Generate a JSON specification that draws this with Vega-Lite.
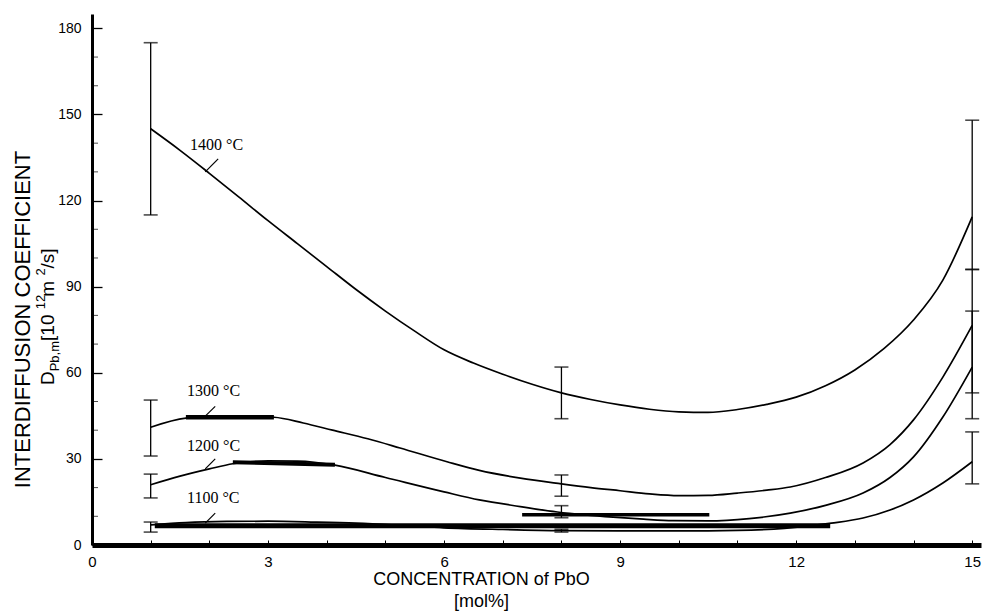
{
  "$schema": "https://vega.github.io/schema/vega-lite/v6.json",
  "width": 889,
  "height": 531,
  "autosize": {"type": "none"},
  "padding": {"left": 92, "top": 14, "right": 1, "bottom": 69},
  "background": "white",
  "config": {"view": {"stroke": null}, "font": "Liberation Sans"},
  "datasets": {
    "curves": [
      {"series": "1400", "conc": 1, "d": 145}, {"series": "1400", "conc": 1.5, "d": 137.5}, {"series": "1400", "conc": 2, "d": 129.5},
      {"series": "1400", "conc": 2.5, "d": 121.3}, {"series": "1400", "conc": 3, "d": 113}, {"series": "1400", "conc": 3.5, "d": 105},
      {"series": "1400", "conc": 4, "d": 97}, {"series": "1400", "conc": 4.5, "d": 89}, {"series": "1400", "conc": 5, "d": 81.5},
      {"series": "1400", "conc": 5.5, "d": 74.5}, {"series": "1400", "conc": 6, "d": 68}, {"series": "1400", "conc": 6.5, "d": 63.4},
      {"series": "1400", "conc": 7, "d": 59.5}, {"series": "1400", "conc": 7.5, "d": 56}, {"series": "1400", "conc": 8, "d": 53},
      {"series": "1400", "conc": 8.5, "d": 50.7}, {"series": "1400", "conc": 9, "d": 48.8}, {"series": "1400", "conc": 9.5, "d": 47.3},
      {"series": "1400", "conc": 10, "d": 46.4}, {"series": "1400", "conc": 10.5, "d": 46.2}, {"series": "1400", "conc": 11, "d": 47.2},
      {"series": "1400", "conc": 11.5, "d": 49}, {"series": "1400", "conc": 12, "d": 51.5}, {"series": "1400", "conc": 12.5, "d": 55.5},
      {"series": "1400", "conc": 13, "d": 61}, {"series": "1400", "conc": 13.5, "d": 68.5}, {"series": "1400", "conc": 14, "d": 78.4},
      {"series": "1400", "conc": 14.5, "d": 92.3}, {"series": "1400", "conc": 15, "d": 114.3},
      {"series": "1300", "conc": 1, "d": 41}, {"series": "1300", "conc": 1.6, "d": 44.2}, {"series": "1300", "conc": 2, "d": 44.6},
      {"series": "1300", "conc": 2.5, "d": 44.8}, {"series": "1300", "conc": 3.1, "d": 44.5}, {"series": "1300", "conc": 3.6, "d": 42.5},
      {"series": "1300", "conc": 4.1, "d": 40}, {"series": "1300", "conc": 4.7, "d": 37}, {"series": "1300", "conc": 5.25, "d": 33.8},
      {"series": "1300", "conc": 6.05, "d": 29}, {"series": "1300", "conc": 6.6, "d": 26}, {"series": "1300", "conc": 7.3, "d": 23.3},
      {"series": "1300", "conc": 8, "d": 21.3}, {"series": "1300", "conc": 8.5, "d": 20}, {"series": "1300", "conc": 9, "d": 18.9},
      {"series": "1300", "conc": 9.5, "d": 17.8}, {"series": "1300", "conc": 10, "d": 17.2}, {"series": "1300", "conc": 10.5, "d": 17.3},
      {"series": "1300", "conc": 11, "d": 18.1}, {"series": "1300", "conc": 11.5, "d": 19.1}, {"series": "1300", "conc": 11.9, "d": 20.2},
      {"series": "1300", "conc": 12.5, "d": 23.5}, {"series": "1300", "conc": 13.14, "d": 28.6}, {"series": "1300", "conc": 13.6, "d": 35},
      {"series": "1300", "conc": 14, "d": 43.6}, {"series": "1300", "conc": 14.5, "d": 58.5}, {"series": "1300", "conc": 15, "d": 76.5},
      {"series": "1200", "conc": 1, "d": 21}, {"series": "1200", "conc": 1.5, "d": 24}, {"series": "1200", "conc": 2, "d": 26.5},
      {"series": "1200", "conc": 2.4, "d": 28.3}, {"series": "1200", "conc": 3, "d": 29.3}, {"series": "1200", "conc": 3.5, "d": 29.2},
      {"series": "1200", "conc": 4.14, "d": 27.8}, {"series": "1200", "conc": 5, "d": 23.5}, {"series": "1200", "conc": 6, "d": 18.5},
      {"series": "1200", "conc": 6.6, "d": 15.7}, {"series": "1200", "conc": 7.3, "d": 13.4}, {"series": "1200", "conc": 7.93, "d": 11.5},
      {"series": "1200", "conc": 8.4, "d": 10.5}, {"series": "1200", "conc": 8.88, "d": 9.7}, {"series": "1200", "conc": 9.4, "d": 9},
      {"series": "1200", "conc": 9.9, "d": 8.5}, {"series": "1200", "conc": 10.5, "d": 8.4}, {"series": "1200", "conc": 11.2, "d": 9.2},
      {"series": "1200", "conc": 11.9, "d": 11.1}, {"series": "1200", "conc": 12.5, "d": 13.8}, {"series": "1200", "conc": 13.14, "d": 18.1},
      {"series": "1200", "conc": 13.6, "d": 23.5}, {"series": "1200", "conc": 14, "d": 30.7}, {"series": "1200", "conc": 14.5, "d": 44.6},
      {"series": "1200", "conc": 15, "d": 62},
      {"series": "1100", "conc": 1, "d": 7}, {"series": "1100", "conc": 1.6, "d": 7.8}, {"series": "1100", "conc": 2.3, "d": 8.2},
      {"series": "1100", "conc": 3, "d": 8.3}, {"series": "1100", "conc": 3.8, "d": 8}, {"series": "1100", "conc": 4.5, "d": 7.6},
      {"series": "1100", "conc": 5.3, "d": 6.8}, {"series": "1100", "conc": 6, "d": 6}, {"series": "1100", "conc": 7, "d": 5.4},
      {"series": "1100", "conc": 8, "d": 5}, {"series": "1100", "conc": 9, "d": 4.9}, {"series": "1100", "conc": 10, "d": 4.9},
      {"series": "1100", "conc": 11, "d": 5.1}, {"series": "1100", "conc": 11.8, "d": 5.8}, {"series": "1100", "conc": 12.6, "d": 7.6},
      {"series": "1100", "conc": 13.14, "d": 9.4}, {"series": "1100", "conc": 13.6, "d": 12.2}, {"series": "1100", "conc": 14, "d": 15.7},
      {"series": "1100", "conc": 14.5, "d": 21.6}, {"series": "1100", "conc": 15, "d": 29}
    ],
    "strokes": [
      {"kind": "heavy", "conc": 1.07, "d": 6.7, "conc2": 12.58, "d2": 6.7},
      {"kind": "bold", "conc": 1.6, "d": 44.5, "conc2": 3.1, "d2": 44.5},
      {"kind": "medium", "conc": 2.4, "d": 28.8, "conc2": 4.14, "d2": 28},
      {"kind": "light", "conc": 7.33, "d": 10.5, "conc2": 10.52, "d2": 10.5}
    ],
    "errors": [
      {"series": "1400", "conc": 1, "lo": 115, "hi": 175},
      {"series": "1400", "conc": 8, "lo": 44, "hi": 62},
      {"series": "1400", "conc": 15, "lo": 96, "hi": 148},
      {"series": "1300", "conc": 1, "lo": 31, "hi": 50.5},
      {"series": "1300", "conc": 8, "lo": 17, "hi": 24.4},
      {"series": "1300", "conc": 15, "lo": 53, "hi": 96},
      {"series": "1200", "conc": 1, "lo": 16.4, "hi": 24.7},
      {"series": "1200", "conc": 8, "lo": 9.5, "hi": 13.7},
      {"series": "1200", "conc": 15, "lo": 44, "hi": 81.5},
      {"series": "1100", "conc": 1, "lo": 4.5, "hi": 8},
      {"series": "1100", "conc": 8, "lo": 4.5, "hi": 5.5},
      {"series": "1100", "conc": 15, "lo": 21.3, "hi": 39.4}
    ],
    "leaders": [
      {"series": "1400", "conc": 1.93, "d": 130, "conc2": 2.15, "d2": 134.5},
      {"series": "1300", "conc": 1.93, "d": 44.9, "conc2": 2.1, "d2": 48.3},
      {"series": "1200", "conc": 1.93, "d": 26.5, "conc2": 2.1, "d2": 30},
      {"series": "1100", "conc": 1.93, "d": 7.6, "conc2": 2.1, "d2": 11.1}
    ],
    "labels": [
      {"series": "1400", "conc": 1.67, "d": 139.4, "text": "1400 °C"},
      {"series": "1300", "conc": 1.62, "d": 53.7, "text": "1300 °C"},
      {"series": "1200", "conc": 1.62, "d": 34.5, "text": "1200 °C"},
      {"series": "1100", "conc": 1.62, "d": 16.4, "text": "1100 °C"}
    ],
    "minorY": [
      {"v": 10}, {"v": 20}, {"v": 40}, {"v": 50}, {"v": 70}, {"v": 80}, {"v": 100}, {"v": 110},
      {"v": 130}, {"v": 140}, {"v": 160}, {"v": 170}
    ],
    "one": [{}]
  },
  "layer": [
    {
      "data": {"name": "curves"},
      "mark": {"type": "line", "color": "black", "strokeWidth": 1.7, "interpolate": "monotone"},
      "encoding": {
        "x": {
          "field": "conc", "type": "quantitative",
          "scale": {"domain": [0, 15.15], "nice": false, "zero": false},
          "axis": {
            "values": [0, 1, 2, 3, 4, 5, 6, 7, 8, 9, 10, 11, 12, 13, 14, 15],
            "format": "d",
            "labelExpr": "datum.value % 3 === 0 ? datum.label : ''",
            "labelOverlap": false,
            "grid": false, "labelFlush": false,
            "domainColor": "black", "domainWidth": 5,
            "tickColor": "black", "tickWidth": 1, "tickSize": -5,
            "labelColor": "black", "labelFontSize": 15, "labelPadding": 14,
            "title": ["CONCENTRATION of PbO", "[mol%]"],
            "titleColor": "black", "titleFontSize": 18, "titleFontWeight": "normal",
            "titleLineHeight": 22, "titleX": 389, "titleY": 25, "titleBaseline": "top", "titleAlign": "center"
          }
        },
        "y": {
          "field": "d", "type": "quantitative",
          "scale": {"domain": [0, 185], "nice": false},
          "axis": {
            "values": [0, 30, 60, 90, 120, 150, 180],
            "format": "d",
            "labelOverlap": false,
            "grid": false,
            "domainColor": "black", "domainWidth": 3,
            "tickColor": "black", "tickWidth": 1.3, "tickSize": -10,
            "labelColor": "black", "labelFontSize": 14, "labelPadding": 21,
            "title": "INTERDIFFUSION COEFFICIENT",
            "titleColor": "black", "titleFontSize": 22, "titleFontWeight": "normal",
            "titleAngle": 270, "titleX": -70, "titleY": 305, "titleAlign": "center", "titleBaseline": "middle"
          }
        },
        "detail": {"field": "series"}
      }
    },
    {
      "data": {"name": "minorY"},
      "mark": {"type": "tick", "color": "black", "orient": "horizontal", "size": 6, "thickness": 1, "xOffset": 3},
      "encoding": {
        "x": {"datum": 0},
        "y": {"field": "v", "type": "quantitative"}
      }
    },
    {
      "data": {"name": "strokes"},
      "mark": {"type": "rule", "color": "black"},
      "encoding": {
        "x": {"field": "conc", "type": "quantitative"},
        "y": {"field": "d", "type": "quantitative"},
        "x2": {"field": "conc2"},
        "y2": {"field": "d2"},
        "strokeWidth": {
          "field": "kind", "type": "nominal", "legend": null,
          "scale": {"domain": ["heavy", "bold", "medium", "light"], "range": [5, 3.5, 2.5, 2]}
        }
      }
    },
    {
      "data": {"name": "errors"},
      "mark": {"type": "rule", "color": "black", "strokeWidth": 1.3},
      "encoding": {
        "x": {"field": "conc", "type": "quantitative"},
        "y": {"field": "lo", "type": "quantitative"},
        "y2": {"field": "hi"}
      }
    },
    {
      "data": {"name": "errors"},
      "mark": {"type": "tick", "color": "black", "orient": "horizontal", "size": 14, "thickness": 1.6},
      "encoding": {
        "x": {"field": "conc", "type": "quantitative"},
        "y": {"field": "lo", "type": "quantitative"}
      }
    },
    {
      "data": {"name": "errors"},
      "mark": {"type": "tick", "color": "black", "orient": "horizontal", "size": 14, "thickness": 1.6},
      "encoding": {
        "x": {"field": "conc", "type": "quantitative"},
        "y": {"field": "hi", "type": "quantitative"}
      }
    },
    {
      "data": {"name": "leaders"},
      "mark": {"type": "rule", "color": "black", "strokeWidth": 1.2},
      "encoding": {
        "x": {"field": "conc", "type": "quantitative"},
        "y": {"field": "d", "type": "quantitative"},
        "x2": {"field": "conc2"},
        "y2": {"field": "d2"}
      }
    },
    {
      "data": {"name": "labels"},
      "mark": {"type": "text", "align": "left", "baseline": "middle", "font": "Liberation Serif", "fontSize": 16, "color": "black"},
      "encoding": {
        "x": {"field": "conc", "type": "quantitative"},
        "y": {"field": "d", "type": "quantitative"},
        "text": {"field": "text"}
      }
    },
    {
      "data": {"name": "one"},
      "mark": {"type": "text", "angle": 270, "align": "left", "baseline": "middle", "fontSize": 19, "color": "black"},
      "encoding": {"x": {"datum": -0.75}, "y": {"datum": 55.75}, "text": {"value": "D"}}
    },
    {
      "data": {"name": "one"},
      "mark": {"type": "text", "angle": 270, "align": "left", "baseline": "middle", "fontSize": 13, "color": "black"},
      "encoding": {"x": {"datum": -0.63}, "y": {"datum": 60.5}, "text": {"value": "Pb,m"}}
    },
    {
      "data": {"name": "one"},
      "mark": {"type": "text", "angle": 270, "align": "left", "baseline": "middle", "fontSize": 19, "color": "black"},
      "encoding": {"x": {"datum": -0.75}, "y": {"datum": 71.1}, "text": {"value": " [10"}}
    },
    {
      "data": {"name": "one"},
      "mark": {"type": "text", "angle": 270, "align": "left", "baseline": "middle", "fontSize": 13, "color": "black"},
      "encoding": {"x": {"datum": -0.87}, "y": {"datum": 82.1}, "text": {"value": "12"}}
    },
    {
      "data": {"name": "one"},
      "mark": {"type": "text", "angle": 270, "align": "left", "baseline": "middle", "fontSize": 19, "color": "black"},
      "encoding": {"x": {"datum": -0.75}, "y": {"datum": 86.5}, "text": {"value": " m"}}
    },
    {
      "data": {"name": "one"},
      "mark": {"type": "text", "angle": 270, "align": "left", "baseline": "middle", "fontSize": 13, "color": "black"},
      "encoding": {"x": {"datum": -0.87}, "y": {"datum": 93.9}, "text": {"value": "2"}}
    },
    {
      "data": {"name": "one"},
      "mark": {"type": "text", "angle": 270, "align": "left", "baseline": "middle", "fontSize": 19, "color": "black"},
      "encoding": {"x": {"datum": -0.75}, "y": {"datum": 96.3}, "text": {"value": "/s]"}}
    }
  ]
}
